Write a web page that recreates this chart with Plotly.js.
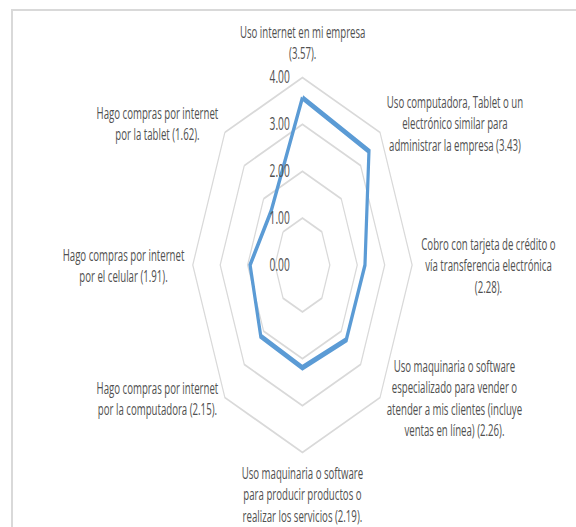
<!DOCTYPE html>
<html>
<head>
<meta charset="utf-8">
<script src="https://cdn.plot.ly/plotly-3.0.1.min.js"></script>
<style>
  html, body { margin:0; padding:0; overflow:hidden; background:#ffffff; }
  #wrap { position:absolute; left:0; top:0; width:576px; height:527px; overflow:hidden; background:#ffffff; }
  #plot { position:absolute; left:0; top:0; width:985px; height:527px; transform:scaleX(0.585); transform-origin:0 0; }
  #frame { position:absolute; left:11px; top:9px; width:600px; height:600px; border-top:2px solid #d9d9d9; border-left:2px solid #d9d9d9; pointer-events:none; }
</style>
</head>
<body>
<div id="wrap">
  <div id="plot"></div>
  <div id="frame"></div>
</div>
<script>
// Categories (clockwise from top), as labelled in the chart
const categories = [
  "Uso internet en mi empresa<br>(3.57).",
  "Uso computadora, Tablet o un<br>electrónico similar para<br>administrar la empresa (3.43)",
  "Cobro con tarjeta de crédito o<br>vía transferencia electrónica<br>(2.28).",
  "Uso maquinaria o software<br>especializado para vender o<br>atender a mis clientes (incluye<br>ventas en línea) (2.26).",
  "Uso maquinaria o software<br>para producir productos o<br>realizar los servicios (2.19).",
  "Hago compras por internet<br>por la computadora (2.15).",
  "Hago compras por internet<br>por el celular (1.91).",
  "Hago compras por internet<br>por la tablet (1.62)."
];
const values = [3.57, 3.43, 2.28, 2.26, 2.19, 2.15, 1.91, 1.62];
const radialTicks = [0, 1, 2, 3, 4];
const radialTickText = ["0.00", "1.00", "2.00", "3.00", "4.00"];

const textColor = "#505050";
const gridColor = "#d9d9d9";
const fontFamily = "'Open Sans', 'Liberation Sans', sans-serif";
const fontSize = 16.5;

// plot geometry (pre-squash pixels)
const W = 985, H = 527, CX = 517, CY = 265, R = 187.5;
const SIDE_PAD = 13, TOP_PAD = 11, BOTTOM_PAD = 6;
const cxp = CX / W, cyp = 1 - CY / H, rxp = R / W, ryp = R / H;

const trace = {
  type: "scatterpolar",
  mode: "lines",
  r: values.concat([values[0]]),
  theta: categories.concat([categories[0]]),
  line: { color: "#5B9BD5", width: 5.5 },
  hoverinfo: "skip",
  showlegend: false
};

// category labels placed just outside each vertex of the outer grid polygon
const annotations = categories.map(function (label, i) {
  const th = i * 2 * Math.PI / categories.length;
  const s = Math.sin(th), c = Math.cos(th);
  const vertical = Math.abs(s) < 0.01;
  let yshift;
  if (vertical) yshift = c > 0 ? TOP_PAD : -BOTTOM_PAD;
  else yshift = SIDE_PAD * Math.max(c, 0);
  return {
    xref: "paper", yref: "paper",
    x: cxp + rxp * s, y: cyp + ryp * c,
    xshift: SIDE_PAD * s, yshift: yshift,
    xanchor: s > 0.01 ? "left" : (s < -0.01 ? "right" : "center"),
    yanchor: vertical ? (c > 0 ? "bottom" : "top") : "middle",
    text: label,
    align: "center",
    showarrow: false,
    font: { family: fontFamily, size: fontSize, color: textColor }
  };
});

const layout = {
  width: W,
  height: H,
  margin: { l: 0, r: 0, t: 0, b: 0 },
  paper_bgcolor: "rgba(0,0,0,0)",
  plot_bgcolor: "rgba(0,0,0,0)",
  showlegend: false,
  font: { family: fontFamily, size: fontSize, color: textColor },
  annotations: annotations,
  polar: {
    domain: { x: [cxp - rxp, cxp + rxp], y: [cyp - ryp, cyp + ryp] },
    gridshape: "linear",
    bgcolor: "rgba(0,0,0,0)",
    radialaxis: {
      range: [0, 4],
      tickvals: radialTicks,
      ticktext: radialTickText,
      angle: 90,
      side: "counterclockwise",
      tickangle: 90,
      showline: false,
      ticks: "outside",
      ticklen: 15,
      tickcolor: "rgba(0,0,0,0)",
      gridcolor: gridColor,
      gridwidth: 2,
      tickfont: { family: fontFamily, size: 17.5, color: textColor }
    },
    angularaxis: {
      type: "category",
      direction: "clockwise",
      rotation: 90,
      showgrid: false,
      showline: true,
      linecolor: gridColor,
      linewidth: 2,
      ticks: "",
      showticklabels: false
    }
  }
};

Plotly.newPlot("plot", [trace], layout, { displayModeBar: false, staticPlot: true });
</script>
</body>
</html>
